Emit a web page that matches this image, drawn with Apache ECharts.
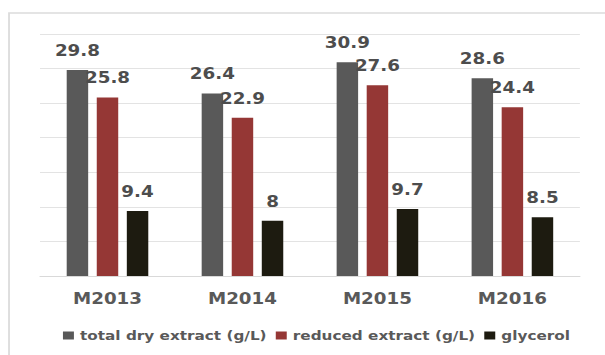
<!DOCTYPE html>
<html>
<head>
<meta charset="utf-8">
<script src="https://cdn.jsdelivr.net/npm/echarts@6/dist/echarts.min.js"></script>
<style>
  html, body { margin: 0; padding: 0; background: #ffffff; overflow: hidden; }
  #wrap { width: 605px; height: 355px; overflow: hidden; }
  /* the chart is laid out narrow and widened horizontally */
  #chart { width: 496px; height: 355px; transform: scaleX(1.2198); transform-origin: 0 0; }
</style>
</head>
<body>
<div id="wrap"><div id="chart"></div></div>
<script>
const categories = ['M2013', 'M2014', 'M2015', 'M2016'];
const totalDryExtract = [29.8, 26.4, 30.9, 28.6];
const reducedExtract = [25.8, 22.9, 27.6, 24.4];
const glycerol = [9.4, 8, 9.7, 8.5];
const seriesNames = ['total dry extract (g/L)', 'reduced extract (g/L)', 'glycerol'];

const FONT = '"DejaVu Sans", Verdana, sans-serif';
const colors = ['#595959', '#953735', '#1d1b10'];

function barSeries(name, data, color) {
  return {
    name: name,
    type: 'bar',
    data: data,
    barWidth: 17.6,
    barGap: '40%',
    itemStyle: { color: color },
    label: {
      show: true,
      position: 'top',
      distance: 12,
      fontFamily: FONT,
      fontWeight: 'bold',
      fontSize: 15,
      color: '#4d4d4d'
    }
  };
}

const chart = echarts.init(document.getElementById('chart'), null, { renderer: 'svg' });
chart.setOption({
  animation: false,
  backgroundColor: '#ffffff',
  color: colors,
  graphic: [{
    type: 'rect',
    silent: true,
    z: -1,
    shape: { x: 7.4, y: 13, width: 700, height: 400 },
    style: { fill: 'none', stroke: '#dcdcdc', lineWidth: 1.5 }
  }],
  grid: { left: 32.8, right: 20.6, top: 34, bottom: 79, containLabel: false },
  legend: {
    data: seriesNames,
    left: 51.6,
    top: 329,
    padding: 0,
    itemWidth: 9,
    itemHeight: 8,
    itemGap: 7.5,
    icon: 'rect',
    textStyle: { fontFamily: FONT, fontWeight: 'bold', fontSize: 12.5, color: '#595959' }
  },
  xAxis: {
    type: 'category',
    data: categories,
    axisTick: { show: false },
    axisLine: { lineStyle: { color: '#d9d9d9', width: 1 } },
    axisLabel: { margin: 15, fontFamily: FONT, fontWeight: 'bold', fontSize: 15, color: '#595959' }
  },
  yAxis: {
    type: 'value',
    min: 0,
    max: 35,
    interval: 5,
    axisLabel: { show: false },
    axisLine: { show: false },
    axisTick: { show: false },
    splitLine: { lineStyle: { color: '#e3e3e3', width: 1 } }
  },
  series: [
    barSeries(seriesNames[0], totalDryExtract, colors[0]),
    barSeries(seriesNames[1], reducedExtract, colors[1]),
    barSeries(seriesNames[2], glycerol, colors[2])
  ]
});
</script>
</body>
</html>
